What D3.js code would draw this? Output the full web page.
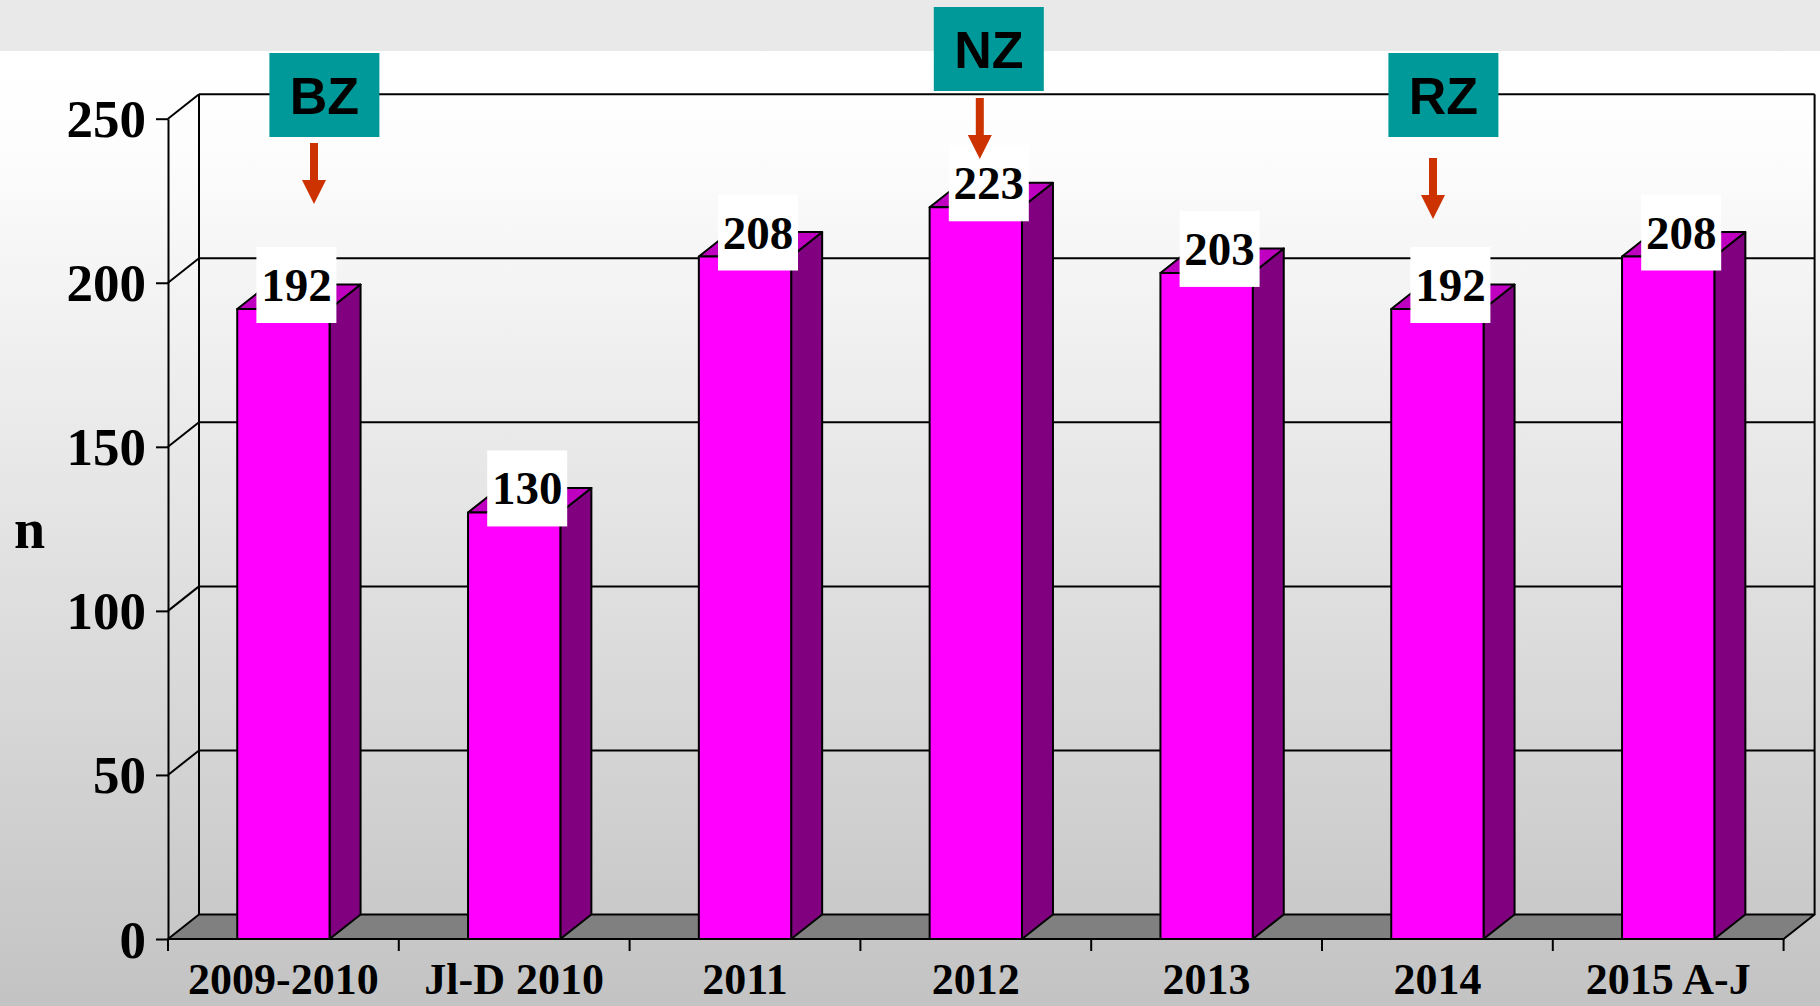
<!DOCTYPE html>
<html>
<head>
<meta charset="utf-8">
<script src="https://cdn.jsdelivr.net/npm/d3@7"></script>
<style>
  html, body { margin: 0; padding: 0; background: #fff; }
  svg { display: block; }
</style>
</head>
<body>
<div id="chart"></div>
<script>
// data
const categories = ["2009-2010", "Jl-D 2010", "2011", "2012", "2013", "2014", "2015 A-J"];
const values = [192, 130, 208, 223, 203, 192, 208];
const yTicks = [0, 50, 100, 150, 200, 250];
const markers = ["BZ", "NZ", "RZ"];
const markerCats = ["2009-2010", "2012", "2014"];

const W = 1820, H = 1006;
const depthX = 31, depthY = 24.5;

const svg = d3.select("#chart").append("svg")
    .attr("width", W)
    .attr("height", H);

// background
const defs = svg.append("defs");
const grad = defs.append("linearGradient")
    .attr("id", "bg").attr("x1", 0).attr("y1", 0).attr("x2", 0).attr("y2", 1);
grad.append("stop").attr("offset", "0%").attr("stop-color", "#ffffff");
grad.append("stop").attr("offset", "10%").attr("stop-color", "#fdfdfd");
grad.append("stop").attr("offset", "100%").attr("stop-color", "#c3c3c3");

svg.append("rect").attr("x", 0).attr("y", 51).attr("width", W).attr("height", H - 51)
    .attr("fill", "url(#bg)");
svg.append("rect").attr("x", 0).attr("y", 0).attr("width", W).attr("height", 51)
    .attr("fill", "#e9e9e9");

// scales
let x = d3.scaleBand()
    .domain(categories)
    .range([168, 1783.6])
    .padding(0);

let xBar = d3.scaleBand()
    .domain(categories)
    .range([168, 1783.6])
    .paddingInner(0.6)
    .paddingOuter(0.3);

let y = d3.scaleLinear()
    .domain([0, 250])
    .range([939, 118.7]);

const x0 = x.range()[0], x1 = x.range()[1];

// back wall gridlines
let grid = svg.append("g").attr("stroke", "#000").attr("stroke-width", 2).attr("fill", "none");
grid.selectAll(".hline")
    .data(yTicks.filter(d => d > 0))
    .enter().append("line")
    .attr("x1", x0 + depthX).attr("x2", x1 + depthX)
    .attr("y1", d => y(d) - depthY).attr("y2", d => y(d) - depthY);
grid.selectAll(".dline")
    .data(yTicks.filter(d => d > 0))
    .enter().append("line")
    .attr("x1", x0).attr("x2", x0 + depthX)
    .attr("y1", d => y(d)).attr("y2", d => y(d) - depthY);
grid.append("line")
    .attr("x1", x0 + depthX).attr("x2", x0 + depthX)
    .attr("y1", y(250) - depthY).attr("y2", y(0) - depthY);
grid.append("line")
    .attr("x1", x1 + depthX).attr("x2", x1 + depthX)
    .attr("y1", y(250) - depthY).attr("y2", y(0) - depthY);

// floor
svg.append("path")
    .attr("d", "M" + x0 + "," + y(0) + "L" + x1 + "," + y(0) +
        "L" + (x1 + depthX) + "," + (y(0) - depthY) +
        "L" + (x0 + depthX) + "," + (y(0) - depthY) + "Z")
    .attr("fill", "#808080")
    .attr("stroke", "#000")
    .attr("stroke-width", 2)
    .attr("stroke-linejoin", "round");

// bars
let bars = svg.selectAll(".bar")
    .data(categories.map((c, i) => ({cat: c, value: values[i]})))
    .enter().append("g")
    .attr("class", "bar")
    .attr("stroke", "#000")
    .attr("stroke-width", 2)
    .attr("stroke-linejoin", "round");

bars.append("path")
    .attr("fill", "#800080")
    .attr("d", function(d) {
        let bx = xBar(d.cat) + xBar.bandwidth(), top = y(d.value), base = y(0);
        return "M" + bx + "," + base + "L" + bx + "," + top +
            "L" + (bx + depthX) + "," + (top - depthY) +
            "L" + (bx + depthX) + "," + (base - depthY) + "Z";
    });
bars.append("path")
    .attr("fill", "#c000c0")
    .attr("d", function(d) {
        let bx = xBar(d.cat), bw = xBar.bandwidth(), top = y(d.value);
        return "M" + bx + "," + top + "L" + (bx + bw) + "," + top +
            "L" + (bx + bw + depthX) + "," + (top - depthY) +
            "L" + (bx + depthX) + "," + (top - depthY) + "Z";
    });
bars.append("rect")
    .attr("fill", "#ff00ff")
    .attr("x", d => xBar(d.cat))
    .attr("y", d => y(d.value))
    .attr("width", xBar.bandwidth())
    .attr("height", d => y(0) - y(d.value));

// value labels
let labels = svg.selectAll(".vlabel")
    .data(categories.map((c, i) => ({cat: c, value: values[i]})))
    .enter().append("g")
    .attr("class", "vlabel")
    .attr("transform", d => "translate(" + (xBar(d.cat) + xBar.bandwidth() / 2 + 13) + "," + (y(d.value) - 24) + ")");
labels.append("rect")
    .attr("x", -40).attr("y", -38)
    .attr("width", 80).attr("height", 76)
    .attr("fill", "#fff");
labels.append("text")
    .attr("text-anchor", "middle")
    .attr("y", 16)
    .attr("font-family", "'Liberation Serif', 'Times New Roman', serif")
    .attr("font-weight", "bold")
    .attr("font-size", 47)
    .text(d => d.value);

// y axis
let yAxis = d3.axisLeft(y).tickValues(yTicks).tickSize(12).tickSizeOuter(0).tickPadding(10);
let yAxisGroup = svg.append("g")
    .attr("transform", "translate(" + x0 + ",0)")
    .call(yAxis);
yAxisGroup.select(".domain").attr("stroke", "#000").attr("stroke-width", 2);
yAxisGroup.selectAll(".tick line").attr("stroke", "#000").attr("stroke-width", 2);
yAxisGroup.selectAll(".tick text")
    .attr("font-family", "'Liberation Serif', 'Times New Roman', serif")
    .attr("font-weight", "bold")
    .attr("font-size", 53)
    .attr("fill", "#000")
    .attr("dy", "0.34em");

// x axis: ticks on band edges, labels on centers
let xAxisGroup = svg.append("g");
xAxisGroup.append("line")
    .attr("x1", x0).attr("x2", x1)
    .attr("y1", y(0)).attr("y2", y(0))
    .attr("stroke", "#000").attr("stroke-width", 2);
xAxisGroup.selectAll(".xtick")
    .data(categories.map(c => x(c)).concat([x1]))
    .enter().append("line")
    .attr("x1", d => d).attr("x2", d => d)
    .attr("y1", y(0)).attr("y2", y(0) + 12)
    .attr("stroke", "#000").attr("stroke-width", 2);
xAxisGroup.selectAll(".xlabel")
    .data(categories)
    .enter().append("text")
    .attr("x", d => x(d) + x.bandwidth() / 2)
    .attr("y", 994)
    .attr("text-anchor", "middle")
    .attr("font-family", "'Liberation Serif', 'Times New Roman', serif")
    .attr("font-weight", "bold")
    .attr("font-size", 44)
    .text(d => d);

// axis title
svg.append("text")
    .attr("x", 14).attr("y", 548)
    .attr("font-family", "'Liberation Serif', 'Times New Roman', serif")
    .attr("font-weight", "bold")
    .attr("font-size", 56)
    .text("n");

// BZ / NZ / RZ markers (hand placed in the original)
const markerLayout = [
    {boxDx: 41, boxTop: 53, arrowDx: 30.6, arrowTop: 143},
    {boxDx: 13, boxTop: 7, arrowDx: 4, arrowTop: 98},
    {boxDx: 6, boxTop: 53, arrowDx: -4.4, arrowTop: 158}
];
let marks = svg.selectAll(".marker")
    .data(markers.map((m, i) => ({label: m, cat: markerCats[i], lay: markerLayout[i]})))
    .enter().append("g")
    .attr("class", "marker");
marks.append("rect")
    .attr("x", d => x(d.cat) + x.bandwidth() / 2 + d.lay.boxDx - 55)
    .attr("y", d => d.lay.boxTop)
    .attr("width", 110).attr("height", 84)
    .attr("fill", "#009999");
marks.append("text")
    .attr("x", d => x(d.cat) + x.bandwidth() / 2 + d.lay.boxDx)
    .attr("y", d => d.lay.boxTop + 42 + 19)
    .attr("text-anchor", "middle")
    .attr("font-family", "'Liberation Sans', Arial, sans-serif")
    .attr("font-weight", "bold")
    .attr("font-size", 52)
    .text(d => d.label);
marks.append("path")
    .attr("fill", "#cc3300")
    .attr("d", function(d) {
        let cx = x(d.cat) + x.bandwidth() / 2 + d.lay.arrowDx, t = d.lay.arrowTop;
        return "M" + (cx - 4) + "," + t + "L" + (cx + 4) + "," + t +
            "L" + (cx + 4) + "," + (t + 37) + "L" + (cx + 12) + "," + (t + 37) +
            "L" + cx + "," + (t + 61) + "L" + (cx - 12) + "," + (t + 37) +
            "L" + (cx - 4) + "," + (t + 37) + "Z";
    });
</script>
</body>
</html>
